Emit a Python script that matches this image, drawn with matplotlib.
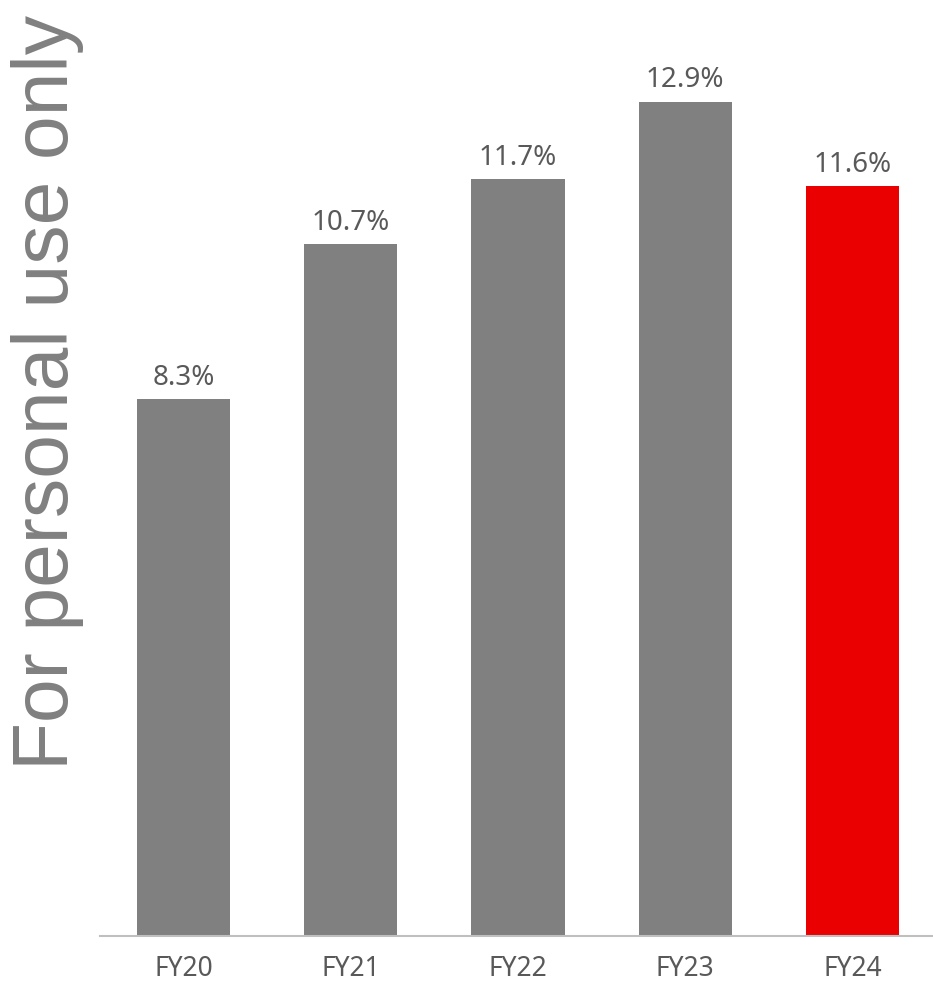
import matplotlib
matplotlib.use("Agg")
import matplotlib.pyplot as plt

years = ["FY20", "FY21", "FY22", "FY23", "FY24"]
margins = [8.3, 10.7, 11.7, 12.9, 11.6]
labels = ["8.3%", "10.7%", "11.7%", "12.9%", "11.6%"]
colors = ["#808080", "#808080", "#808080", "#808080", "#EA0000"]

fig = plt.figure(figsize=(9.33, 9.87), dpi=100)
ax = fig.add_axes([100 / 933, 50 / 987, 836 / 933, 937 / 987])

x = range(len(years))
bars = ax.bar(x, margins, width=0.557, color=colors)
ax.bar_label(bars, labels=labels, padding=6, fontsize=20,
             family="Noto Sans", color="#595959")

ax.set_xlim(-0.5, 4.5)
ax.set_ylim(0, 14.49)
ax.set_xticks(list(x))
ax.set_xticklabels(years, fontsize=19, family="Noto Sans", color="#595959")
ax.tick_params(axis="x", length=0, pad=13)
ax.set_yticks([])
for side in ["top", "right", "left"]:
    ax.spines[side].set_visible(False)
ax.spines["bottom"].set_color("#BFBFBF")
ax.spines["bottom"].set_linewidth(1.5)

# watermark
fig.text(68 / 933, (987 - 770) / 987, "For personal use only", rotation=90,
         rotation_mode="anchor", ha="left", va="baseline",
         fontsize=56.5, family="Liberation Sans", color="#808080")

fig.savefig("out.png", dpi=100)
